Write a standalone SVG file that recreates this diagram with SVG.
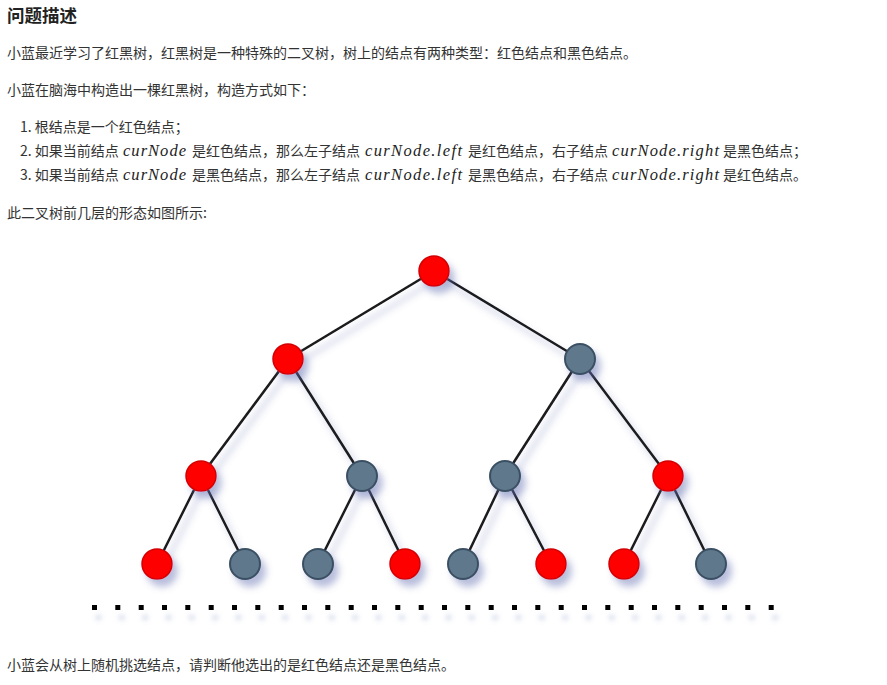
<svg xmlns="http://www.w3.org/2000/svg" width="887" height="685" viewBox="0 0 887 685">
<style>
.t{font-family:"Noto Sans CJK SC","Noto Sans",sans-serif;font-size:14px;fill:#333}
.h{font-family:"Noto Sans CJK SC","Noto Sans",sans-serif;font-size:17.5px;font-weight:bold;fill:#222}
.m{font-family:"Liberation Serif",serif;font-style:italic;font-size:16.5px;fill:#222}
.edge{stroke:#1a1a1a;stroke-width:2.5;fill:none}
.r{fill:#ff0000;stroke:#d40000;stroke-width:1.5}
.b{fill:#5f788c;stroke:#3b5063;stroke-width:2}
.dot{fill:#000}
</style>
<defs>
<filter id="sh" x="-60%" y="-60%" width="220%" height="220%">
<feDropShadow dx="5" dy="7" stdDeviation="3.5" flood-color="#6070b0" flood-opacity="0.45"/>
</filter>
<filter id="dsh" x="-200%" y="-200%" width="500%" height="600%">
<feDropShadow dx="4" dy="10" stdDeviation="2.5" flood-color="#8090c0" flood-opacity="0.35"/>
</filter>
</defs>
<rect width="887" height="685" fill="#fff"/>
<text class="h" x="7" y="22">问题描述</text>
<text class="t" x="7" y="58">小蓝最近学习了红黑树，红黑树是一种特殊的二叉树，树上的结点有两种类型：红色结点和黑色结点。</text>
<text class="t" x="7" y="95">小蓝在脑海中构造出一棵红黑树，构造方式如下：</text>
<text class="t" x="20" y="132">1. 根结点是一个红色结点；</text>
<text class="t" x="20" y="156">2. 如果当前结点</text>
<text class="m" x="123" y="156" textLength="63" lengthAdjust="spacing">curNode</text>
<text class="t" x="192" y="156">是红色结点，那么左子结点</text>
<text class="m" x="365" y="156" textLength="97" lengthAdjust="spacing">curNode.left</text>
<text class="t" x="468" y="156">是红色结点，右子结点</text>
<text class="m" x="612" y="156" textLength="107" lengthAdjust="spacing">curNode.right</text>
<text class="t" x="723" y="156">是黑色结点；</text>
<text class="t" x="20" y="180">3. 如果当前结点</text>
<text class="m" x="123" y="180" textLength="63" lengthAdjust="spacing">curNode</text>
<text class="t" x="192" y="180">是黑色结点，那么左子结点</text>
<text class="m" x="365" y="180" textLength="97" lengthAdjust="spacing">curNode.left</text>
<text class="t" x="468" y="180">是黑色结点，右子结点</text>
<text class="m" x="612" y="180" textLength="107" lengthAdjust="spacing">curNode.right</text>
<text class="t" x="723" y="180">是红色结点。</text>
<text class="t" x="7" y="218">此二叉树前几层的形态如图所示:</text>
<text class="t" x="7" y="670">小蓝会从树上随机挑选结点，请判断他选出的是红色结点还是黑色结点。</text>
<g id="connectors" filter="url(#sh)">
<line class="edge" x1="434" y1="271" x2="288" y2="359"/>
<line class="edge" x1="434" y1="271" x2="580" y2="359"/>
<line class="edge" x1="288" y1="359" x2="201" y2="476"/>
<line class="edge" x1="288" y1="359" x2="362" y2="476"/>
<line class="edge" x1="580" y1="359" x2="505" y2="476"/>
<line class="edge" x1="580" y1="359" x2="668" y2="476"/>
<line class="edge" x1="201" y1="476" x2="157" y2="564"/>
<line class="edge" x1="201" y1="476" x2="245" y2="564"/>
<line class="edge" x1="362" y1="476" x2="318" y2="564"/>
<line class="edge" x1="362" y1="476" x2="405" y2="564"/>
<line class="edge" x1="505" y1="476" x2="463" y2="564"/>
<line class="edge" x1="505" y1="476" x2="551" y2="564"/>
<line class="edge" x1="668" y1="476" x2="624" y2="564"/>
<line class="edge" x1="668" y1="476" x2="711" y2="564"/>
</g>
<g filter="url(#sh)">
<g id="n0"><circle class="r" cx="434" cy="271" r="15"/></g>
<g id="n1"><circle class="r" cx="288" cy="359" r="15"/></g>
<g id="n2"><circle class="b" cx="580" cy="359" r="15"/></g>
<g id="n3"><circle class="r" cx="201" cy="476" r="15"/></g>
<g id="n4"><circle class="b" cx="362" cy="476" r="15"/></g>
<g id="n5"><circle class="b" cx="505" cy="476" r="15"/></g>
<g id="n6"><circle class="r" cx="668" cy="476" r="15"/></g>
<g id="n7"><circle class="r" cx="157" cy="564" r="15"/></g>
<g id="n8"><circle class="b" cx="245" cy="564" r="15"/></g>
<g id="n9"><circle class="b" cx="318" cy="564" r="15"/></g>
<g id="n10"><circle class="r" cx="405" cy="564" r="15"/></g>
<g id="n11"><circle class="b" cx="463" cy="564" r="15"/></g>
<g id="n12"><circle class="r" cx="551" cy="564" r="15"/></g>
<g id="n13"><circle class="r" cx="624" cy="564" r="15"/></g>
<g id="n14"><circle class="b" cx="711" cy="564" r="15"/></g>
</g>
<g id="dots" filter="url(#dsh)">
<rect class="dot" x="92" y="605" width="5" height="5"/>
<rect class="dot" x="115.3" y="605" width="5" height="5"/>
<rect class="dot" x="138.7" y="605" width="5" height="5"/>
<rect class="dot" x="162" y="605" width="5" height="5"/>
<rect class="dot" x="185.3" y="605" width="5" height="5"/>
<rect class="dot" x="208.7" y="605" width="5" height="5"/>
<rect class="dot" x="232" y="605" width="5" height="5"/>
<rect class="dot" x="255.3" y="605" width="5" height="5"/>
<rect class="dot" x="278.7" y="605" width="5" height="5"/>
<rect class="dot" x="302" y="605" width="5" height="5"/>
<rect class="dot" x="325.3" y="605" width="5" height="5"/>
<rect class="dot" x="348.7" y="605" width="5" height="5"/>
<rect class="dot" x="372" y="605" width="5" height="5"/>
<rect class="dot" x="395.3" y="605" width="5" height="5"/>
<rect class="dot" x="418.7" y="605" width="5" height="5"/>
<rect class="dot" x="442" y="605" width="5" height="5"/>
<rect class="dot" x="465.3" y="605" width="5" height="5"/>
<rect class="dot" x="488.7" y="605" width="5" height="5"/>
<rect class="dot" x="512" y="605" width="5" height="5"/>
<rect class="dot" x="535.3" y="605" width="5" height="5"/>
<rect class="dot" x="558.7" y="605" width="5" height="5"/>
<rect class="dot" x="582" y="605" width="5" height="5"/>
<rect class="dot" x="605.3" y="605" width="5" height="5"/>
<rect class="dot" x="628.7" y="605" width="5" height="5"/>
<rect class="dot" x="652" y="605" width="5" height="5"/>
<rect class="dot" x="675.3" y="605" width="5" height="5"/>
<rect class="dot" x="698.7" y="605" width="5" height="5"/>
<rect class="dot" x="722" y="605" width="5" height="5"/>
<rect class="dot" x="745.3" y="605" width="5" height="5"/>
<rect class="dot" x="768.7" y="605" width="5" height="5"/>
</g>
</svg>
